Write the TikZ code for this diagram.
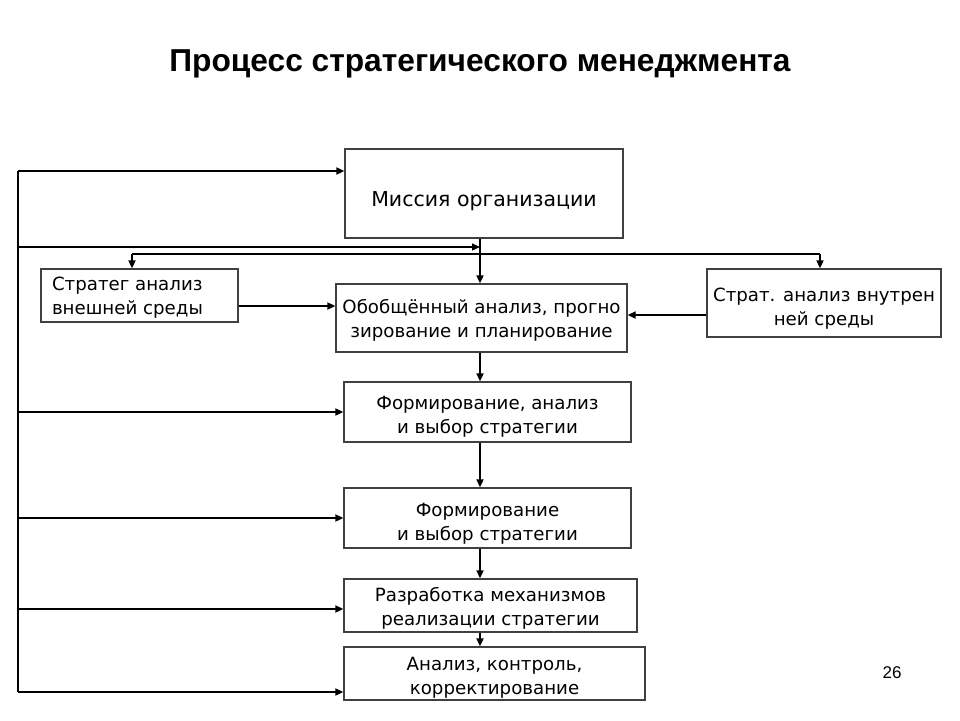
\documentclass[tikz,border=0pt]{standalone}
\usepackage{fontspec}
\setmainfont{DejaVu Sans}
\newfontfamily\titlefont{Liberation Sans}
\usetikzlibrary{arrows.meta}
\newcommand\btxt[3]{\raisebox{-#1pt}[\height][\depth]{\begin{tabular}{@{}#2@{}}#3\end{tabular}}}
\begin{document}
\begin{tikzpicture}[x=1pt,y=-1pt,
  box/.style={draw=black!75, line width=1.3pt, rectangle, inner sep=0pt, align=center,
              font=\fontsize{18.2}{24}\selectfont},
  arr/.style={line width=1.8pt, -{Triangle[length=8pt,width=7pt]}},
  ln/.style={line width=1.8pt},
  thinln/.style={line width=1.2pt}]
\useasboundingbox (0,0) rectangle (960,720);
\fill[white] (0,0) rectangle (960,720);

\node[font=\titlefont\fontsize{31.7}{36}\selectfont\bfseries] (title) at (480,63.5) {Процесс стратегического менеджмента};
\node[font=\titlefont\fontsize{17}{20}\selectfont] (page) at (892,673) {26};

\node[box, font=\fontsize{20.5}{24}\selectfont, minimum width=278pt, minimum height=89pt] (mis) at (484,193.5) {\btxt{8}{c}{Миссия организации}};
\node[box, minimum width=197pt, minimum height=53pt] (ext) at (139.5,295.5) {\makebox[175pt][l]{\btxt{2}{l}{Стратег анализ\\внешней среды}}};
\node[box, minimum width=291pt, minimum height=68pt] (gen) at (481.5,318) {\btxt{3}{c}{Обобщённый анализ, прогно\\зирование и планирование}};
\node[box, minimum width=234pt, minimum height=68pt] (int) at (824,303) {\btxt{6}{c}{Страт. анализ внутрен\\ней среды}};
\node[box, minimum width=287pt, minimum height=60pt] (f1) at (487.5,412) {\btxt{5}{c}{Формирование, анализ\\и выбор стратегии}};
\node[box, minimum width=287pt, minimum height=60pt] (f2) at (487.5,518) {\btxt{6}{c}{Формирование\\и выбор стратегии}};
\node[box, minimum width=293pt, minimum height=53pt] (dev) at (490.5,605.5) {\btxt{3}{c}{Разработка механизмов\\реализации стратегии}};
\node[box, minimum width=301pt, minimum height=53pt] (ctl) at (494.5,673.5) {\btxt{4}{c}{Анализ, контроль,\\корректирование}};

% spine and helper coordinates
\coordinate (sp) at (480,0);
\coordinate (Ltop) at (18,171);
\coordinate (Lbot) at (18,692);
\coordinate (Lmid) at (18,247);
\coordinate (ta) at (132,254);
\coordinate (tb) at (820,254);
\coordinate (ey) at (0,306);
\coordinate (iy) at (0,315);
\coordinate (dy) at (0,609);

% central flow
\draw[arr] (mis.south -| sp) -- (gen.north -| sp);
\draw[arr] (gen.south -| sp) -- (f1.north -| sp);
\draw[arr] (f1.south -| sp) -- (f2.north -| sp);
\draw[arr] (f2.south -| sp) -- (dev.north -| sp);
\draw[arr] (dev.south -| sp) -- (ctl.north -| sp);

% distribution line to side analyses
\draw[thinln] (ta) -- (tb);
\draw[arr] (ta) -- (ext.north -| ta);
\draw[arr] (tb) -- (int.north -| tb);

% side analyses into general analysis
\draw[arr] (ext.east |- ey) -- (gen.west |- ey);
\draw[arr] (int.west |- iy) -- (gen.east |- iy);

% feedback bus
\draw[ln] (Ltop) -- (Lbot);
\draw[arr] (Ltop) -- (mis.west |- Ltop);
\draw[arr, line width=1.2pt] (Lmid) -- (sp |- Lmid);
\draw[arr] (f1.west -| Ltop) -- (f1.west);
\draw[arr] (f2.west -| Ltop) -- (f2.west);
\draw[arr] (Ltop |- dy) -- (dev.west |- dy);
\draw[arr] (Lbot) -- (ctl.west |- Lbot);
\end{tikzpicture}
\end{document}
